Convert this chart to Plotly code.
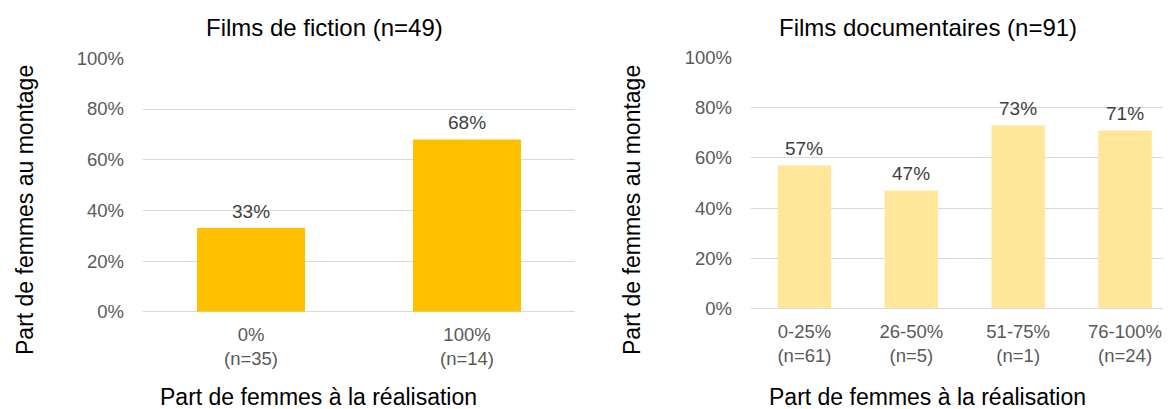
import plotly.graph_objects as go

# Data
fiction_categories = ["0%<br>(n=35)", "100%<br>(n=14)"]
fiction_values = [0.33, 0.68]
doc_categories = ["0-25%<br>(n=61)", "26-50%<br>(n=5)", "51-75%<br>(n=1)", "76-100%<br>(n=24)"]
doc_values = [0.57, 0.47, 0.73, 0.71]
y_ticks = [0, 0.2, 0.4, 0.6, 0.8, 1.0]
y_ticktext = ["0%", "20%", "40%", "60%", "80%", "100%"]
title_left = "Films de fiction (n=49)"
title_right = "Films documentaires (n=91)"
x_title = "Part de femmes à la réalisation"
y_title = "Part de femmes au montage"

W, H = 1171, 409
OFF = 8  # page body margin
FONT = "Liberation Sans, Arial, sans-serif"
GRID = "#d9d9d9"
TICKC = "#595959"
LABELC = "#404040"

def px(x):
    return (x - OFF) / W

def py(y):
    return 1 - (y - OFF) / H

fig = go.Figure()

fig.add_trace(go.Bar(
    x=list(range(len(fiction_values))), y=fiction_values,
    marker=dict(color="#FFC000", line=dict(width=0)),
    width=0.5,
    xaxis="x", yaxis="y", hoverinfo="skip", showlegend=False,
))
fig.add_trace(go.Bar(
    x=list(range(len(doc_values))), y=doc_values,
    marker=dict(color="#FFE699", line=dict(width=0)),
    width=0.5,
    xaxis="x2", yaxis="y2", hoverinfo="skip", showlegend=False,
))

common_y = dict(
    range=[0, 1.0001], tickvals=y_ticks, ticktext=y_ticktext,
    showgrid=True, gridcolor=GRID, gridwidth=1,
    zeroline=True, zerolinecolor=GRID, zerolinewidth=1,
    showline=False, ticks="", automargin=False,
    tickfont=dict(family=FONT, size=18.5, color=TICKC),
    ticklabelstandoff=18, fixedrange=True,
)
common_x = dict(
    showgrid=False, zeroline=False, showline=False, ticks="", automargin=False,
    tickfont=dict(family=FONT, size=18.5, color=TICKC),
    ticklabelstandoff=10, fixedrange=True,
)

fig.update_layout(
    width=W, height=H, autosize=False,
    margin=dict(l=0, r=0, t=0, b=0, pad=0, autoexpand=False),
    paper_bgcolor="white", plot_bgcolor="white",
    showlegend=False,
    xaxis=dict(domain=[px(143), px(575)], range=[-0.5, 1.5],
               tickvals=list(range(len(fiction_categories))), ticktext=fiction_categories,
               anchor="y", **common_x),
    yaxis=dict(domain=[py(311.7), py(58.3)], anchor="x", **common_y),
    xaxis2=dict(domain=[px(751), px(1171)], range=[-0.5, 3.43],
                tickvals=list(range(len(doc_categories))), ticktext=doc_categories,
                anchor="y2", **common_x),
    yaxis2=dict(domain=[py(308.3), py(57.7)], anchor="x2", **common_y),
)

title_font = dict(family=FONT, size=24, color="#000000")
axis_font = dict(family=FONT, size=23, color="#000000")
label_font = dict(family=FONT, size=19, color=LABELC)
annotations = [
    dict(text=title_left, x=px(324), y=py(27), font=title_font),
    dict(text=title_right, x=px(928), y=py(27), font=title_font),
    dict(text=x_title, x=px(318), y=py(397), font=axis_font),
    dict(text=x_title, x=px(927), y=py(397), font=axis_font),
    dict(text=y_title, x=px(25), y=py(210), font=axis_font, textangle=-90),
    dict(text=y_title, x=px(632), y=py(210), font=axis_font, textangle=-90),
]
for a in annotations:
    a.update(xref="paper", yref="paper", showarrow=False, xanchor="center", yanchor="middle")

# data labels, positioned through the axes
for i, v in enumerate(fiction_values):
    annotations.append(dict(text=f"{round(v*100)}%", x=i, y=v, xref="x", yref="y",
                            showarrow=False, xanchor="center", yanchor="middle",
                            yshift=17, font=label_font))
for i, v in enumerate(doc_values):
    annotations.append(dict(text=f"{round(v*100)}%", x=i, y=v, xref="x2", yref="y2",
                            showarrow=False, xanchor="center", yanchor="middle",
                            yshift=17, font=label_font))
fig.update_layout(annotations=annotations)

fig.write_html("out.html")
